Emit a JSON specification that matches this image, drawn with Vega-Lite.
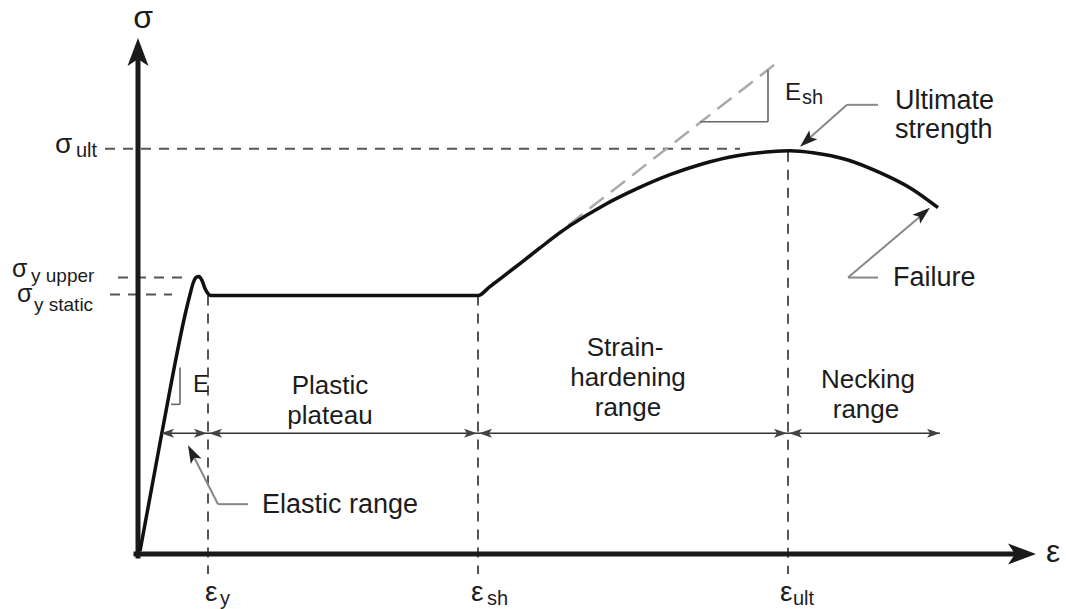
{
  "$schema": "https://vega.github.io/schema/vega-lite/v6.json",
  "width": 1066,
  "height": 609,
  "autosize": {"type": "fit", "contains": "padding"},
  "padding": 0,
  "background": "white",
  "config": {"view": {"stroke": null}},
  "datasets": {
    "curve": [
      {"e": 2, "s": 3}, {"e": 24, "s": 122}, {"e": 49, "s": 248}, {"e": 52, "s": 260},
      {"e": 55, "s": 271}, {"e": 58, "s": 277}, {"e": 61, "s": 278}, {"e": 64, "s": 274},
      {"e": 67, "s": 266}, {"e": 70, "s": 261}, {"e": 73, "s": 259}, {"e": 340, "s": 259},
      {"e": 352, "s": 268}, {"e": 382, "s": 291}, {"e": 432, "s": 329}, {"e": 465, "s": 349},
      {"e": 499, "s": 366}, {"e": 532, "s": 380}, {"e": 565, "s": 391}, {"e": 599, "s": 399},
      {"e": 632, "s": 403}, {"e": 652, "s": 404}, {"e": 675, "s": 402}, {"e": 709, "s": 395},
      {"e": 742, "s": 382}, {"e": 775, "s": 365}, {"e": 800, "s": 347}
    ],
    "segs": [
      {"role": "axis", "e": 0, "s": -2, "e2": 0, "s2": 497},
      {"role": "axis", "e": -2, "s": 0, "e2": 878, "s2": 0},
      {"role": "guide", "e": -33, "s": 406, "e2": 602, "s2": 406},
      {"role": "guide", "e": -20, "s": 277, "e2": 44, "s2": 277},
      {"role": "guide", "e": -28, "s": 260, "e2": 34, "s2": 260},
      {"role": "guide", "e": 70, "s": 259, "e2": 70, "s2": -20},
      {"role": "guide", "e": 340, "s": 259, "e2": 340, "s2": -20},
      {"role": "guide", "e": 650, "s": 403, "e2": 650, "s2": -20},
      {"role": "tangent", "e": 345, "s": 263, "e2": 640, "s2": 493},
      {"role": "triangle", "e": 630, "s": 485, "e2": 630, "s2": 433},
      {"role": "triangle", "e": 562, "s": 433, "e2": 630, "s2": 433},
      {"role": "triangle", "e": 42, "s": 187, "e2": 42, "s2": 150},
      {"role": "triangle", "e": 33, "s": 150, "e2": 42, "s2": 150},
      {"role": "dim", "e": 22, "s": 121, "e2": 802, "s2": 121},
      {"role": "leader", "e": 110, "s": 50, "e2": 80, "s2": 50},
      {"role": "leader", "e": 80, "s": 50, "e2": 52, "s2": 105},
      {"role": "leader", "e": 740, "s": 450, "e2": 709, "s2": 450},
      {"role": "leader", "e": 709, "s": 450, "e2": 665, "s2": 411},
      {"role": "leader", "e": 740, "s": 277, "e2": 710, "s2": 277},
      {"role": "leader", "e": 710, "s": 277, "e2": 789, "s2": 344}
    ],
    "tips": [
      {"role": "axis", "e": 0, "s": 517, "dir": 270},
      {"role": "axis", "e": 898, "s": 0, "dir": 0},
      {"role": "dim", "e": 23, "s": 121, "dir": 180},
      {"role": "dim", "e": 69, "s": 121, "dir": 0},
      {"role": "dim", "e": 71, "s": 121, "dir": 180},
      {"role": "dim", "e": 339, "s": 121, "dir": 0},
      {"role": "dim", "e": 341, "s": 121, "dir": 180},
      {"role": "dim", "e": 649, "s": 121, "dir": 0},
      {"role": "dim", "e": 651, "s": 121, "dir": 180},
      {"role": "dim", "e": 802, "s": 121, "dir": 0},
      {"role": "leader", "e": 50, "s": 109, "dir": 243},
      {"role": "leader", "e": 662, "s": 408, "dir": 138},
      {"role": "leader", "e": 792, "s": 347, "dir": 320}
    ],
    "labels": [
      {"role": "annotC", "t": "Plastic", "e": 192, "s": 160},
      {"role": "annotC", "t": "plateau", "e": 192, "s": 130},
      {"role": "annotC", "t": "Strain-", "e": 487, "s": 198},
      {"role": "annotC", "t": "hardening", "e": 490, "s": 168},
      {"role": "annotC", "t": "range", "e": 490, "s": 138},
      {"role": "annotC", "t": "Necking", "e": 730, "s": 166},
      {"role": "annotC", "t": "range", "e": 728, "s": 136},
      {"role": "annotL", "t": "Ultimate", "e": 757, "s": 446},
      {"role": "annotL", "t": "strength", "e": 757, "s": 417},
      {"role": "annotL", "t": "Failure", "e": 755, "s": 269},
      {"role": "annotL", "t": "Elastic range", "e": 124, "s": 41},
      {"role": "greek", "t": "σ", "e": -83, "s": 402},
      {"role": "greekS", "t": "σ", "e": -126, "s": 278},
      {"role": "greekS", "t": "σ", "e": -121, "s": 253},
      {"role": "greek", "t": "ε", "e": 67, "s": -47},
      {"role": "greek", "t": "ε", "e": 333, "s": -47},
      {"role": "greek", "t": "ε", "e": 642, "s": -47},
      {"role": "sub", "t": "ult", "e": -62, "s": 398},
      {"role": "subS", "t": "y upper", "e": -107, "s": 273},
      {"role": "subS", "t": "y static", "e": -104, "s": 243},
      {"role": "sub", "t": "y", "e": 82, "s": -51},
      {"role": "sub", "t": "sh", "e": 349, "s": -51},
      {"role": "sub", "t": "ult", "e": 655, "s": -51},
      {"role": "sub", "t": "sh", "e": 664, "s": 451},
      {"role": "modulus", "t": "E", "e": 647, "s": 455},
      {"role": "modulus", "t": "E", "e": 55, "s": 162},
      {"role": "axisname", "t": "σ", "e": 5, "s": 527},
      {"role": "axisname", "t": "ε", "e": 915, "s": -8}
    ]
  },
  "encoding": {
    "x": {"field": "e", "type": "quantitative", "scale": {"domain": [-138, 928], "nice": false, "zero": false}, "axis": null},
    "y": {"field": "s", "type": "quantitative", "scale": {"domain": [-54, 555], "nice": false, "zero": false}, "axis": null}
  },
  "layer": [
    {
      "data": {"name": "segs"},
      "transform": [{"filter": "datum.role === 'guide'"}],
      "mark": {"type": "rule", "stroke": "#555555", "strokeWidth": 2, "strokeDash": [10, 8]},
      "encoding": {"x2": {"field": "e2"}, "y2": {"field": "s2"}}
    },
    {
      "data": {"name": "segs"},
      "transform": [{"filter": "datum.role === 'tangent'"}],
      "mark": {"type": "rule", "stroke": "#aaaaaa", "strokeWidth": 2.5, "strokeDash": [18, 9]},
      "encoding": {"x2": {"field": "e2"}, "y2": {"field": "s2"}}
    },
    {
      "data": {"name": "segs"},
      "transform": [{"filter": "datum.role === 'triangle'"}],
      "mark": {"type": "rule", "stroke": "#666666", "strokeWidth": 1.6},
      "encoding": {"x2": {"field": "e2"}, "y2": {"field": "s2"}}
    },
    {
      "data": {"name": "segs"},
      "transform": [{"filter": "datum.role === 'dim'"}],
      "mark": {"type": "rule", "stroke": "#333333", "strokeWidth": 1.6},
      "encoding": {"x2": {"field": "e2"}, "y2": {"field": "s2"}}
    },
    {
      "data": {"name": "segs"},
      "transform": [{"filter": "datum.role === 'leader'"}],
      "mark": {"type": "rule", "stroke": "#888888", "strokeWidth": 2},
      "encoding": {"x2": {"field": "e2"}, "y2": {"field": "s2"}}
    },
    {
      "data": {"name": "segs"},
      "transform": [{"filter": "datum.role === 'axis'"}],
      "mark": {"type": "rule", "stroke": "#1a1a1a", "strokeWidth": 5, "strokeCap": "square"},
      "encoding": {"x2": {"field": "e2"}, "y2": {"field": "s2"}}
    },
    {
      "data": {"name": "curve"},
      "mark": {"type": "line", "interpolate": "monotone", "stroke": "#111111", "strokeWidth": 3.5},
      "encoding": {}
    },
    {
      "data": {"name": "tips"},
      "transform": [{"filter": "datum.role === 'axis'"}],
      "mark": {"type": "point", "shape": "M0,0L-2.8,-1.05L-2.1,0L-2.8,1.05Z", "size": 400, "filled": true, "color": "#1a1a1a", "opacity": 1},
      "encoding": {"angle": {"field": "dir", "type": "quantitative", "scale": null}}
    },
    {
      "data": {"name": "tips"},
      "transform": [{"filter": "datum.role === 'dim'"}],
      "mark": {"type": "point", "shape": "M0,0L-1.3,-0.45L-1.0,0L-1.3,0.45Z", "size": 400, "filled": true, "color": "#444444", "opacity": 1},
      "encoding": {"angle": {"field": "dir", "type": "quantitative", "scale": null}}
    },
    {
      "data": {"name": "tips"},
      "transform": [{"filter": "datum.role === 'leader'"}],
      "mark": {"type": "point", "shape": "M0,0L-1.8,-0.6L-1.4,0L-1.8,0.6Z", "size": 400, "filled": true, "color": "#222222", "opacity": 1},
      "encoding": {"angle": {"field": "dir", "type": "quantitative", "scale": null}}
    },
    {
      "data": {"name": "labels"},
      "transform": [{"filter": "datum.role === 'annotC'"}],
      "mark": {"type": "text", "font": "Liberation Sans", "fontSize": 26, "align": "center", "baseline": "alphabetic", "fill": "#1c1c1c"},
      "encoding": {"text": {"field": "t"}}
    },
    {
      "data": {"name": "labels"},
      "transform": [{"filter": "datum.role === 'annotL'"}],
      "mark": {"type": "text", "font": "Liberation Sans", "fontSize": 27, "align": "left", "baseline": "alphabetic", "fill": "#1c1c1c"},
      "encoding": {"text": {"field": "t"}}
    },
    {
      "data": {"name": "labels"},
      "transform": [{"filter": "datum.role === 'greek'"}],
      "mark": {"type": "text", "font": "Liberation Sans", "fontSize": 28, "align": "left", "baseline": "alphabetic", "fill": "#1c1c1c"},
      "encoding": {"text": {"field": "t"}}
    },
    {
      "data": {"name": "labels"},
      "transform": [{"filter": "datum.role === 'greekS'"}],
      "mark": {"type": "text", "font": "Liberation Sans", "fontSize": 25, "align": "left", "baseline": "alphabetic", "fill": "#1c1c1c"},
      "encoding": {"text": {"field": "t"}}
    },
    {
      "data": {"name": "labels"},
      "transform": [{"filter": "datum.role === 'sub'"}],
      "mark": {"type": "text", "font": "Liberation Sans", "fontSize": 20, "align": "left", "baseline": "alphabetic", "fill": "#1c1c1c"},
      "encoding": {"text": {"field": "t"}}
    },
    {
      "data": {"name": "labels"},
      "transform": [{"filter": "datum.role === 'subS'"}],
      "mark": {"type": "text", "font": "Liberation Sans", "fontSize": 19, "align": "left", "baseline": "alphabetic", "fill": "#1c1c1c"},
      "encoding": {"text": {"field": "t"}}
    },
    {
      "data": {"name": "labels"},
      "transform": [{"filter": "datum.role === 'modulus'"}],
      "mark": {"type": "text", "font": "Liberation Sans", "fontSize": 24, "align": "left", "baseline": "alphabetic", "fill": "#1c1c1c"},
      "encoding": {"text": {"field": "t"}}
    },
    {
      "data": {"name": "labels"},
      "transform": [{"filter": "datum.role === 'axisname'"}],
      "mark": {"type": "text", "font": "Liberation Sans", "fontSize": 32, "align": "center", "baseline": "alphabetic", "fill": "#1c1c1c"},
      "encoding": {"text": {"field": "t"}}
    }
  ]
}
